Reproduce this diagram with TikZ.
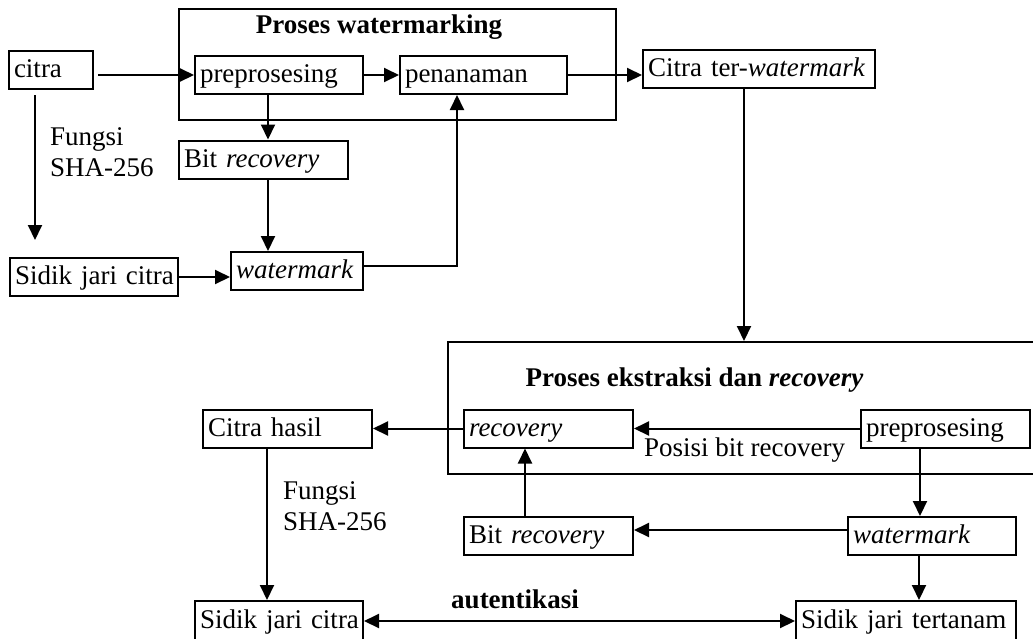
\documentclass[tikz,border=0pt]{standalone}
\usepackage{fontspec}
\setmainfont{Liberation Serif}
\usetikzlibrary{arrows.meta}
\tikzset{
  kotak/.style={draw, line width=1pt, minimum height=19pt, inner xsep=2.5pt, inner ysep=0pt, text height=10pt, text depth=2.5pt, align=left, text width=#1, execute at begin node=\hbox\bgroup, execute at end node=\egroup},
  bingkai/.style={draw, line width=1pt, inner sep=0pt},
  panah/.style={line width=1pt, -{Triangle[length=7.5pt,width=7pt]}},
  panahdua/.style={line width=1pt, {Triangle[length=7.5pt,width=7pt]}-{Triangle[length=7.5pt,width=7pt]}},
}
\begin{document}
\begin{tikzpicture}[x=0.5pt,y=-0.5pt, every node/.style={font=\fontsize{13.5pt}{15.5pt}\selectfont}]
\useasboundingbox (0,0) rectangle (1033,638);

% proses watermarking
\node[bingkai, minimum width=218.5pt, minimum height=55.5pt] (proseswm) at (397.5,64.5) {};
\node (judulwm) at (379,27) {\textbf{Proses watermarking}};

\node[kotak=37pt] (citra) at (51,70) {citra};
\node[kotak=79pt] (pre1) at (279,75) {preprosesing};
\node[kotak=78.5pt] (tanam) at (483.5,75) {penanaman};
\node[kotak=111pt] (terwm) at (759,68.5) {Citra ter-\textit{watermark}};
\node[kotak=79.5pt] (bit1) at (263.5,159.5) {Bit \textit{recovery}};
\node[kotak=61pt] (wm1) at (297,271) {\textit{watermark}};
\node[kotak=79pt] (sidik1) at (94,277) {Sidik jari citra};
\coordinate (ujung1) at (35,240);
\node[anchor=west, align=left] (fungsi1) at (43,152) {Fungsi\\SHA-256};

\path[draw,panah] ([xshift=2pt]citra.east |- pre1.west) -- (pre1.west);
\path[draw,panah] (pre1.east) -- (tanam.west);
\path[draw,panah] (tanam.east) -- (tanam.east -| terwm.west);
\path[draw,panah] ([xshift=-5.5pt]pre1.south) -- ([xshift=-5.5pt]pre1.south |- bit1.north);
\path[draw,panah] ([xshift=2.25pt]bit1.south) -- ([xshift=2.25pt]bit1.south |- wm1.north);
\path[draw,panah] (sidik1.east) -- (sidik1.east -| wm1.west);
\path[draw,panah] ([yshift=2.5pt]wm1.east) -| ([xshift=-13.25pt]tanam.south);
\path[draw,panah] ([xshift=-8pt,yshift=-2.5pt]citra.south) -- (ujung1);

% proses ekstraksi dan recovery
\node[bingkai, minimum width=296pt, minimum height=66pt] (ekstr) at (744,408) {};
\node (judulek) at (694.5,380) {\textbf{Proses ekstraksi dan \textit{recovery}}};

\node[kotak=79.5pt] (rec) at (548.5,428.5) {\textit{recovery}};
\node[kotak=79.5pt] (pre2) at (945.5,428.5) {preprosesing};
\node[kotak=79.5pt] (hasil) at (287.5,428.5) {Citra hasil};
\node[kotak=79.5pt] (bit2) at (548.5,536) {Bit \textit{recovery}};
\node[kotak=79pt] (wm2) at (932,536) {\textit{watermark}};
\node[kotak=79pt, minimum height=20pt] (sidik2) at (279,621) {Sidik jari citra};
\node[kotak=105pt, minimum height=20pt] (tertanam) at (906,621) {Sidik jari tertanam};
\node[anchor=west] (posisi) at (637,450) {Posisi bit recovery};
\node[anchor=west, align=left] (fungsi2) at (276,506) {Fungsi\\SHA-256};
\node (auten) at (515,599) {\textbf{autentikasi}};

\path[draw,panah] ([xshift=-7.5pt]terwm.south) -- ([xshift=-7.5pt]terwm.south |- ekstr.north);
\path[draw,panah] (pre2.west) -- (rec.east);
\path[draw,panah] (rec.west) -- (hasil.east);
\path[draw,panah] ([xshift=-11.75pt]bit2.north) -- ([xshift=-11.75pt]bit2.north |- rec.south);
\path[draw,panah] ([xshift=-12.75pt]pre2.south) -- ([xshift=-12.75pt]pre2.south |- wm2.north);
\path[draw,panah] ([yshift=3pt]wm2.west) -- ([yshift=3pt]wm2.west -| bit2.east);
\path[draw,panah] ([xshift=-6.5pt]wm2.south) -- ([xshift=-6.5pt]wm2.south |- tertanam.north);
\path[draw,panah] ([xshift=-10.25pt]hasil.south) -- ([xshift=-10.25pt]hasil.south |- sidik2.north);
\path[draw,panahdua] (sidik2.east) -- (tertanam.west);
\end{tikzpicture}
\end{document}
